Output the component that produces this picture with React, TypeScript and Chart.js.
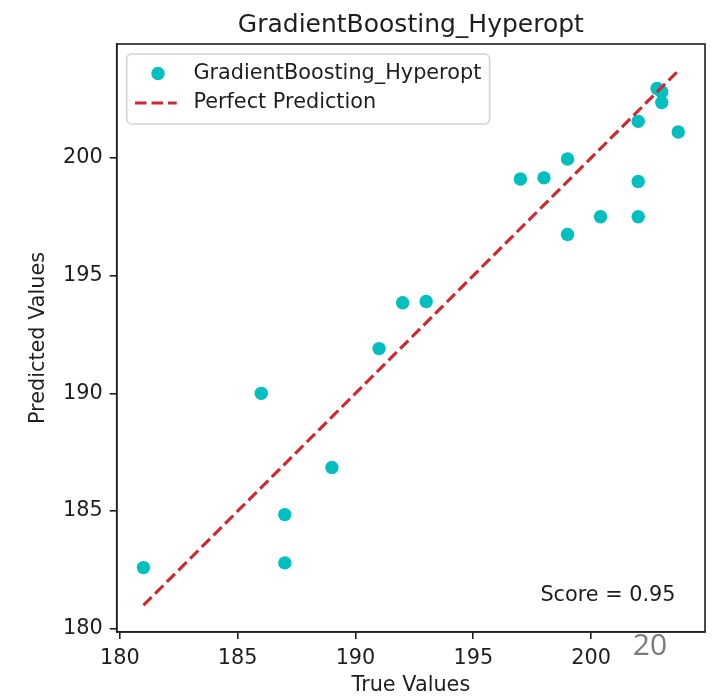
import React, { useEffect, useRef } from "react";
import { Chart, registerables } from "chart.js";

Chart.register(...registerables);

// Measured vs. model output for the tuned gradient-boosting regressor
const trueValues = [
  181, 186, 187, 187, 189, 191, 192, 193, 197, 198,
  199, 199, 200.4, 202, 202, 202, 202.8, 203, 203, 203.7,
];
const predictedValues = [
  182.6, 190.0, 184.85, 182.8, 186.85, 191.9, 193.85, 193.9, 199.1, 199.15,
  199.95, 196.75, 197.5, 201.55, 199.0, 197.5, 202.95, 202.8, 202.35, 201.1,
];
const xTicks = [180, 185, 190, 195, 200];
const yTicks = [180, 185, 190, 195, 200];

const modelName = "GradientBoosting_Hyperopt";
const lineLabel = "Perfect Prediction";
const scoreText = "Score = 0.95";
const pageNumber = "20";

const FONT = '"DejaVu Sans", sans-serif';
const INK = "#1e1e1e";
const POINT_COLOR = "#00bfbf";
const LINE_COLOR = "#d2262e";

const allValues = [...trueValues, ...predictedValues];
const lo = Math.min(...allValues);
const hi = Math.max(...allValues);
const margin = (hi - lo) * 0.05;
const axisMin = lo - margin;
const axisMax = hi + margin;

const overlayPlugin = {
  id: "overlay",
  afterDraw(chart: any) {
    const { ctx, chartArea: a } = chart;
    ctx.save();

    // full frame around the plotting area
    ctx.strokeStyle = INK;
    ctx.lineWidth = 1.6;
    ctx.strokeRect(a.left, a.top, a.right - a.left, a.bottom - a.top);

    const cx = (a.left + a.right) / 2;
    const cy = (a.top + a.bottom) / 2;

    // title
    ctx.fillStyle = INK;
    ctx.font = `25px ${FONT}`;
    ctx.textAlign = "center";
    ctx.textBaseline = "alphabetic";
    ctx.fillText(modelName, cx, a.top - 12.5);

    // axis titles
    ctx.font = `20.8px ${FONT}`;
    ctx.textBaseline = "middle";
    ctx.fillText("True Values", cx, 686);
    ctx.save();
    ctx.translate(39, cy);
    ctx.rotate(-Math.PI / 2);
    ctx.fillText("Predicted Values", 0, 0);
    ctx.restore();

    // score annotation
    ctx.textAlign = "right";
    ctx.textBaseline = "bottom";
    ctx.fillText(scoreText, a.left + (a.right - a.left) * 0.95, a.bottom - (a.bottom - a.top) * 0.05 + 3);

    // legend
    const lx = a.left + 10;
    const ly = a.top + 10;
    ctx.font = `20.8px ${FONT}`;
    const textW = Math.max(ctx.measureText(modelName).width, ctx.measureText(lineLabel).width);
    const lw = 8.3 * 2 + 41.7 + 16.7 + textW;
    const lh = 70;
    ctx.beginPath();
    (ctx as any).roundRect(lx, ly, lw, lh, 5);
    ctx.fillStyle = "rgba(255,255,255,0.8)";
    ctx.fill();
    ctx.strokeStyle = "#d4d4d4";
    ctx.lineWidth = 1.6;
    ctx.stroke();

    const row1 = ly + 19.5;
    const row2 = ly + 49;
    const hx = lx + 8.3;
    ctx.fillStyle = POINT_COLOR;
    ctx.beginPath();
    ctx.arc(hx + 23, row1, 6.7, 0, Math.PI * 2);
    ctx.fill();

    ctx.strokeStyle = LINE_COLOR;
    ctx.lineWidth = 3.1;
    ctx.setLineDash([11.5, 5]);
    ctx.beginPath();
    ctx.moveTo(hx, row2);
    ctx.lineTo(hx + 41.7, row2);
    ctx.stroke();
    ctx.setLineDash([]);

    ctx.fillStyle = INK;
    ctx.textAlign = "left";
    ctx.textBaseline = "middle";
    const tx = hx + 41.7 + 16.7;
    ctx.fillText(modelName, tx, row1);
    ctx.fillText(lineLabel, tx, row2);

    // page number
    ctx.fillStyle = "#7a7a7a";
    ctx.font = '30px "Open Sans", sans-serif';
    ctx.textAlign = "center";
    ctx.textBaseline = "middle";
    ctx.fillText(pageNumber, 650, 646);

    ctx.restore();
  },
};

const axisCommon = (ticks: number[]) => ({
  type: "linear" as const,
  min: axisMin,
  max: axisMax,
  afterBuildTicks(scale: any) {
    scale.ticks = ticks.map((v) => ({ value: v }));
  },
  grid: {
    display: true,
    drawOnChartArea: false,
    drawTicks: true,
    tickLength: 7,
    color: INK,
    lineWidth: 1.6,
  },
  border: { display: true, color: INK, width: 1.6 },
  ticks: {
    color: INK,
    padding: 7,
    font: { family: FONT, size: 20.8 },
    callback: (v: any) => String(v),
  },
});

export default function App() {
  const canvasRef = useRef<HTMLCanvasElement | null>(null);

  useEffect(() => {
    if (!canvasRef.current) return;
    const points = trueValues.map((x, i) => ({ x, y: predictedValues[i] }));
    const chart = new Chart(canvasRef.current, {
      type: "scatter",
      data: {
        datasets: [
          {
            type: "line",
            label: lineLabel,
            data: [
              { x: lo, y: lo },
              { x: hi, y: hi },
            ],
            borderColor: LINE_COLOR,
            borderWidth: 3.1,
            borderDash: [11.5, 5],
            pointRadius: 0,
            fill: false,
            order: 0,
          } as any,
          {
            label: modelName,
            data: points,
            backgroundColor: POINT_COLOR,
            borderWidth: 0,
            pointRadius: 6.7,
            pointHoverRadius: 6.7,
            order: 1,
          },
        ],
      },
      options: {
        animation: false,
        responsive: false,
        devicePixelRatio: 1,
        layout: { padding: { top: 44, right: 9, left: 0, bottom: 0 } },
        plugins: {
          legend: { display: false },
          tooltip: { enabled: false },
          title: { display: false },
        },
        scales: {
          x: {
            ...axisCommon(xTicks),
            position: "bottom",
            afterFit(scale: any) {
              scale.height = 65;
            },
          },
          y: {
            ...axisCommon(yTicks),
            position: "left",
            afterFit(scale: any) {
              scale.width = 116.7;
            },
          },
        } as any,
      },
      plugins: [overlayPlugin],
    });
    return () => chart.destroy();
  }, []);

  return (
    <div style={{ position: "absolute", left: 0, top: 0, width: 714, height: 697, background: "#fff" }}>
      <canvas ref={canvasRef} width={714} height={697} />
    </div>
  );
}
